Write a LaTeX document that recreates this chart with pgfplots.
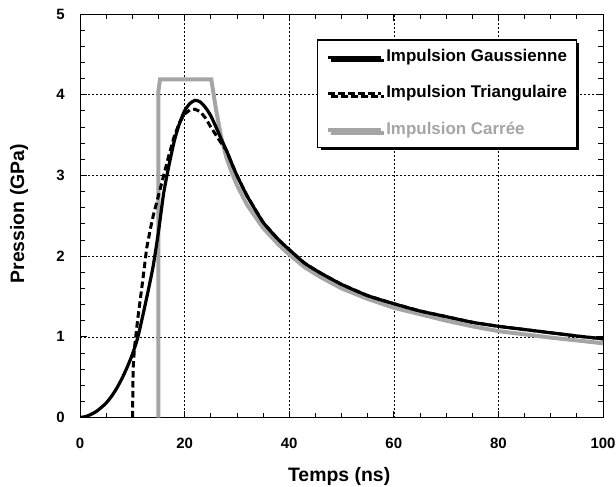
\documentclass[border=0pt]{standalone}
\usepackage{fontspec}
\setmainfont{Liberation Sans}
\usepackage{pgfplots}
\pgfplotsset{compat=1.18}
\usetikzlibrary{shadows}
\definecolor{lgray}{RGB}{165,165,165}

\begin{document}
\begin{tikzpicture}
\begin{axis}[
  at={(0,0)}, anchor=south west,
  scale only axis,
  width=523bp, height=403.5bp,
  xmin=0, xmax=100, ymin=0, ymax=5,
  xtick={0,20,...,100}, ytick={0,1,...,5},
  minor x tick num=3, minor y tick num=4,
  tick align=inside,
  major tick length=7bp, minor tick length=5bp,
  tick style={black, line width=0.8bp},
  axis line style={line width=1bp},
  grid=major,
  major grid style={black, line width=0.6bp, dash pattern=on 2bp off 2bp},
  /pgf/number format/assume math mode=true,
  tick label style={font=\bfseries\fontsize{15}{17}\selectfont},
  xticklabel style={anchor=base, yshift=-30.8bp},
  yticklabel style={anchor=east, inner sep=0pt, xshift=-15bp},
  xlabel={\bfseries Temps (ns)},
  ylabel={\bfseries Pression (GPa)},
  label style={font=\fontsize{19.5}{21}\selectfont},
  xlabel style={at={(axis description cs:0.4955,0)}, anchor=base, yshift=-64bp},
  ylabel style={at={(axis description cs:-0.1166,0.505)}, anchor=center},
  reverse legend,
  legend cell align=left,
  legend image code/.code={\draw[#1] (0bp,0bp) -- (52.6bp,0bp); \path (55bp,0bp);},
  legend style={at={(axis description cs:0.4537,0.9373)}, anchor=north west,
    draw=black, line width=1.2bp, fill=white,
    drop shadow={shadow xshift=3bp, shadow yshift=-3bp, fill=black, opacity=1},
    font=\bfseries\fontsize{17}{19}\selectfont,
    inner xsep=8.4bp, inner ysep=8.5bp, row sep=18.4bp, column sep=0pt,
    nodes={inner sep=1bp, text height=12.2bp, text depth=3.6bp}},
]
\addplot[lgray, line width=4bp, line join=miter] coordinates {
(15,0) (15,4.05) (15.3,4.19) (25.1,4.19) (26,3.82) (27,3.47) (28,3.22) (29,3.04)
(30,2.88) (32,2.63) (35,2.35) (38,2.14) (40,2.02) (43,1.86) (46,1.74) (50,1.6)
(55,1.47) (60,1.36) (65,1.28) (70,1.2) (75,1.13) (80,1.07) (85,1.03) (90,0.99)
(95,0.955) (100,0.92)
};
\addlegendentry{\textcolor{lgray}{Impulsion Carrée}}
\addplot[black, line width=3bp, dash pattern=on 6.5bp off 3.5bp] coordinates {
(10.05,0) (10.15,0.6) (10.4,0.85) (11,1.2) (11.5,1.45) (12,1.7) (12.75,2.1)
(13.5,2.35) (14,2.5) (15,2.75) (16,3.0) (17,3.25) (18,3.48) (19,3.65) (20,3.76)
(21,3.81) (22,3.82) (23,3.79) (24,3.71) (25,3.6) (26,3.5) (27,3.4) (28,3.31)
(29,3.15) (30,3.0) (32,2.74) (35,2.42) (38,2.2) (40,2.08) (43,1.91) (46,1.79)
(50,1.65) (55,1.51) (60,1.41) (65,1.32) (70,1.25) (75,1.18) (80,1.13) (85,1.09)
(90,1.05) (95,1.01) (100,0.975)
};
\addlegendentry{Impulsion Triangulaire}
\addplot[black, line width=3.2bp, smooth, tension=0.4] coordinates {
(0,0) (1,0.01) (2,0.035) (3,0.07) (4,0.12) (5,0.18) (6,0.26) (7,0.36) (8,0.48)
(9,0.62) (10,0.78) (11,0.98) (12,1.26) (13,1.56) (14,1.88) (15,2.3) (16,2.78)
(17,3.12) (18,3.42) (19,3.64) (20,3.8) (21,3.89) (22,3.93) (23,3.91) (24,3.84)
(25,3.74) (26,3.6) (27,3.45) (28,3.31) (29,3.15) (30,3.0) (32,2.74) (35,2.42)
(38,2.2) (40,2.08) (43,1.91) (46,1.79) (50,1.65) (55,1.51) (60,1.41) (65,1.32)
(70,1.25) (75,1.18) (80,1.13) (85,1.09) (90,1.05) (95,1.01) (100,0.975)
};
\addlegendentry{Impulsion Gaussienne}
\end{axis}
\pgfresetboundingbox
\path[use as bounding box] (-80bp,-69.5bp) rectangle (536bp,417.5bp);
\end{tikzpicture}
\end{document}
